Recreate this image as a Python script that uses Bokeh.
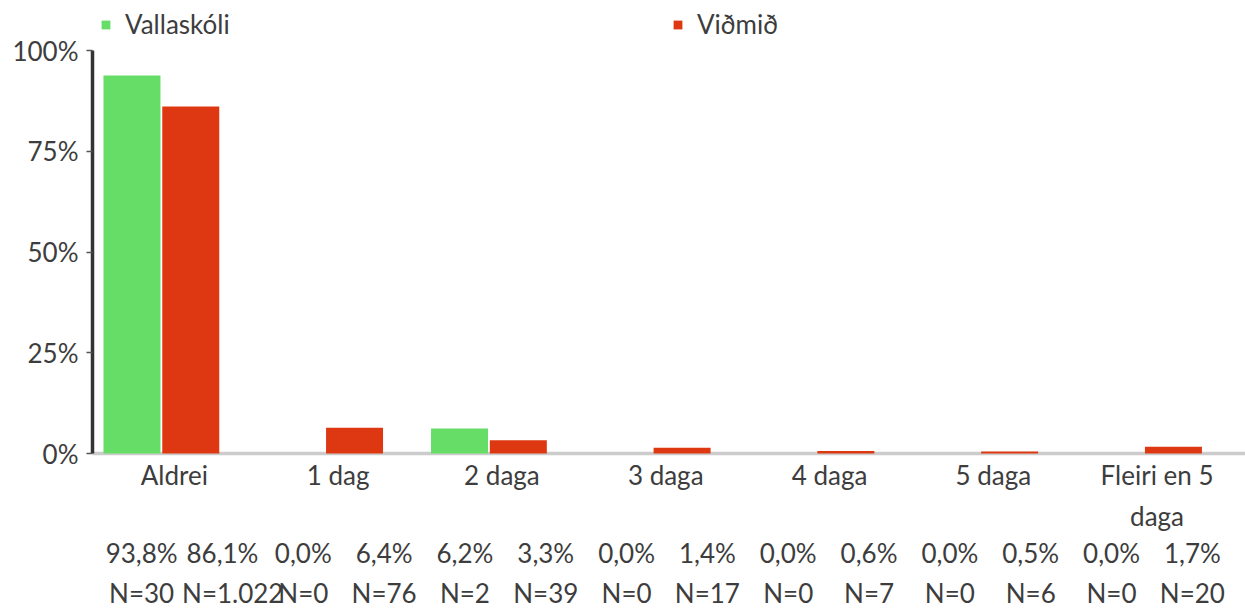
from bokeh.plotting import figure
from bokeh.models import ColumnDataSource, FixedTicker, Legend, LegendItem
from bokeh.core.properties import value
from bokeh.embed import file_html
from bokeh.resources import INLINE

categories = ["Aldrei", "1 dag", "2 daga", "3 daga", "4 daga", "5 daga", "Fleiri en 5\ndaga"]
series_names = ["Vallaskóli", "Viðmið"]
vallaskoli_pct = [93.8, 0.0, 6.2, 0.0, 0.0, 0.0, 0.0]
vidmid_pct = [86.1, 6.4, 3.3, 1.4, 0.6, 0.5, 1.7]
vallaskoli_n = [30, 0, 2, 0, 0, 0, 0]
vidmid_n = [1022, 76, 39, 17, 7, 6, 20]
y_ticks = [0, 0.25, 0.5, 0.75, 1.0]
y_tick_labels = ["0%", "25%", "50%", "75%", "100%"]

GREEN = "#66dd66"
RED = "#dd3812"
TEXT = "#3d3d3d"
FONT = "Lato"
FS = "26px"

def fmt_pct(v):
    return f"{v:.1f}".replace(".", ",") + "%"

def fmt_n(n):
    return "N=" + f"{n:,}".replace(",", ".")

idx = list(range(len(categories)))
src_g = ColumnDataSource(dict(x=[i + 0.241 for i in idx], top=[v / 100 for v in vallaskoli_pct]))
src_r = ColumnDataSource(dict(x=[i + 0.600 for i in idx], top=[v / 100 for v in vidmid_pct]))

p = figure(width=1245, height=608, x_range=(0, 7.04), y_range=(-0.3846, 1.1241),
           output_backend="svg", toolbar_location=None,
           min_border_left=92, min_border_right=0, min_border_top=0, min_border_bottom=0)
p.outline_line_color = None
p.grid.visible = False

g = p.vbar(x="x", top="top", width=0.348, bottom=0, source=src_g, fill_color=GREEN,
           line_color=None, level="overlay")
r = p.vbar(x="x", top="top", width=0.348, bottom=0, source=src_r, fill_color=RED,
           line_color=None, level="overlay")

# Table of values below the chart (14 evenly spaced columns)
col_texts_pct = []
col_texts_n = []
for i in idx:
    col_texts_pct += [fmt_pct(vallaskoli_pct[i]), fmt_pct(vidmid_pct[i])]
    col_texts_n += [fmt_n(vallaskoli_n[i]), fmt_n(vidmid_n[i])]
COL0, COLW = 0.30, 0.4935
col_x = [COL0 + COLW * k for k in range(len(col_texts_pct))]

def draw_row(texts, y):
    # texts that fit are centred in their column; overflowing ones start at the column's left edge
    fit_x, fit_t, over_x, over_t = [], [], [], []
    for x, t in zip(col_x, texts):
        if len(t) > 6:
            over_x.append(x - COLW / 2)
            over_t.append(t)
        else:
            fit_x.append(x)
            fit_t.append(t)
    p.text(x=fit_x, y=[y] * len(fit_x), text=fit_t, text_align="center",
           text_baseline="middle", text_font=value(FONT), text_font_size=FS, text_color=TEXT)
    if over_x:
        p.text(x=over_x, y=[y] * len(over_x), text=over_t, text_align="left",
               text_baseline="middle", text_font=value(FONT), text_font_size=FS, text_color=TEXT)

draw_row(col_texts_pct, -0.248)
draw_row(col_texts_n, -0.347)

# Y axis
yax = p.yaxis[0]
yax.ticker = FixedTicker(ticks=y_ticks)
yax.major_label_overrides = {t: l for t, l in zip(y_ticks, y_tick_labels)}
yax.bounds = (0, 1)
yax.axis_line_color = "#333333"
yax.axis_line_width = 3.5
yax.major_tick_line_color = "#555555"
yax.major_tick_line_width = 1.5
yax.major_tick_out = 6
yax.major_tick_in = 0
yax.minor_tick_line_color = None
yax.major_label_standoff = 8
yax.major_label_text_font = FONT
yax.major_label_text_font_size = FS
yax.major_label_text_color = TEXT

# X axis at zero
xax = p.xaxis[0]
xax.fixed_location = 0
xax.ticker = FixedTicker(ticks=[i + 0.5 for i in idx])
xax.major_label_overrides = {i + 0.5: c for i, c in zip(idx, categories)}
xax.axis_line_color = "#cccccc"
xax.axis_line_width = 3.5
xax.major_tick_line_color = None
xax.minor_tick_line_color = None
xax.major_tick_out = 0
xax.major_tick_in = 0
xax.major_label_standoff = 5
xax.major_label_text_font = FONT
xax.major_label_text_font_size = FS
xax.major_label_text_color = TEXT
xax.major_label_text_line_height = 1.3

legend = Legend(items=[LegendItem(label=series_names[0], renderers=[g]),
                       LegendItem(label=series_names[1], renderers=[r])],
                orientation="horizontal", location=(8, 568),
                glyph_width=11, glyph_height=11, label_standoff=14, label_width=547,
                spacing=0, padding=0, margin=0,
                label_text_font=FONT, label_text_font_size=FS, label_text_color=TEXT,
                background_fill_alpha=0, border_line_color=None)
p.add_layout(legend)

open("out.html", "w").write(file_html(p, INLINE))
